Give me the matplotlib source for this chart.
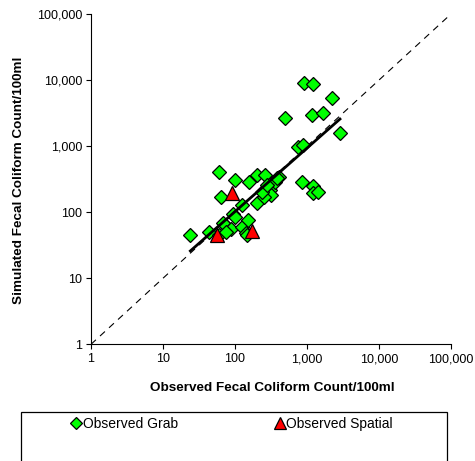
import numpy as np
import matplotlib
matplotlib.use("Agg")
import matplotlib.pyplot as plt
from matplotlib.patches import Rectangle
from matplotlib.ticker import FixedLocator, FuncFormatter, NullLocator

plt.rcParams['font.family'] = ['Liberation Sans', 'DejaVu Sans']

# Observed vs simulated fecal coliform counts (per 100 ml)
grab_obs = [24, 44, 60, 63, 100, 155, 200, 265, 200, 125, 95, 100, 73, 68, 88,
            125, 150, 140, 145, 60, 76, 305, 320, 255, 235, 360, 410, 380, 275,
            500, 760, 890, 900, 1200, 1180, 1650, 2240, 2870, 860, 1200, 1200, 1430]
grab_sim = [45, 50, 400, 172, 310, 285, 360, 370, 140, 130, 95, 85, 65, 68, 55,
            60, 76, 48, 45, 45, 50, 215, 180, 170, 200, 290, 340, 330, 260,
            2650, 980, 1040, 8900, 8700, 3000, 3200, 5400, 1600, 290, 245, 195, 205]

spatial_obs = [56, 90, 170]
spatial_sim = [45, 195, 52]

# Power-law trend  y = 10**fit_intercept * x**fit_slope
fit_slope = 0.961
fit_intercept = 0.087

tick_values = [1, 10, 100, 1000, 10000, 100000]

fig = plt.figure(figsize=(4.75, 4.61), dpi=100)
ax = fig.add_axes([91 / 475, 1 - 344.3 / 461, 360 / 475, 330.3 / 461])

ax.set_xscale('log')
ax.set_yscale('log')
ax.set_xlim(1, 100000)
ax.set_ylim(1, 100000)

# 1:1 reference line
ax.plot([1, 100000], [1, 100000], color='black', lw=0.8, ls=(0, (6, 5)), zorder=1)

# trend line across the range of grab observations
xs = np.array([min(grab_obs), max(grab_obs)], dtype=float)
ax.plot(xs, 10 ** fit_intercept * xs ** fit_slope, color='black', lw=2.0, zorder=4)

g = ax.plot(grab_obs, grab_sim, ls='none', marker='D', ms=7.3, mfc='#00FF00',
            mec='black', mew=0.9, zorder=3, label='Observed Grab')[0]
s = ax.plot(spatial_obs, spatial_sim, ls='none', marker='^', ms=10.5, mfc='#FF0000',
            mec='black', mew=0.9, zorder=5, label='Observed Spatial')[0]

fmt = FuncFormatter(lambda v, p: f"{int(round(v)):,}")
for axis in (ax.xaxis, ax.yaxis):
    axis.set_major_locator(FixedLocator(tick_values))
    axis.set_minor_locator(NullLocator())
    axis.set_major_formatter(fmt)

ax.tick_params(axis='both', which='major', length=3.5, width=0.8, labelsize=9,
               direction='out', pad=3)
for side in ('top', 'right'):
    ax.spines[side].set_visible(False)
for side in ('left', 'bottom'):
    ax.spines[side].set_linewidth(0.8)

fig.text(272 / 475, 1 - 388 / 461, 'Observed Fecal Coliform Count/100ml',
         ha='center', va='center', fontsize=9.7, fontweight='bold')
fig.text(19 / 475, 1 - 180 / 461, 'Simulated Fecal Coliform Count/100ml',
         ha='center', va='center', rotation=90, fontsize=9.7, fontweight='bold')

# legend box
fig.patches.append(Rectangle((21 / 475, -0.05), 426 / 475, 0.05 + 1 - 412 / 461,
                             transform=fig.transFigure, fill=False,
                             edgecolor='black', lw=0.9))
leg = fig.legend(handles=[g, s], loc='center', ncol=2,
                 bbox_to_anchor=(232.5 / 475, 1 - 424 / 461), frameon=False,
                 fontsize=10, markerscale=0.8, handlelength=0.6, handletextpad=0.2,
                 columnspacing=7.0)

fig.savefig('out.png', dpi=100)
